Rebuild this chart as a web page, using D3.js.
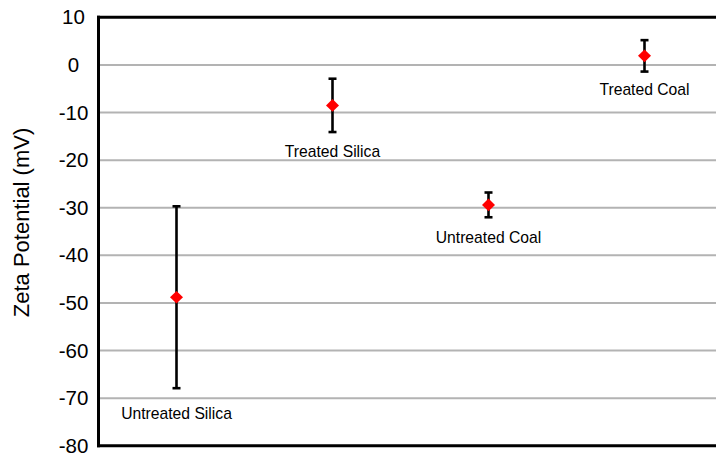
<!DOCTYPE html>
<html>
<head>
<meta charset="utf-8">
<script src="https://cdn.jsdelivr.net/npm/d3@7"></script>
<style>
  html, body { margin: 0; padding: 0; background: #fff; }
  svg { display: block; }
  text { font-family: "Liberation Sans", Arial, sans-serif; }
</style>
</head>
<body>
<svg id="chart" width="716" height="454"></svg>
<script>
// ---- data ----
const categories = ["Untreated Silica", "Treated Silica", "Untreated Coal", "Treated Coal"];
const means      = [-48.8, -8.5, -29.4, 1.9];
const errors     = [19.1, 5.6, 2.6, 3.3];
const labelY     = [-74.4, -19.3, -37.3, -6.3];
const yTicks     = [10, 0, -10, -20, -30, -40, -50, -60, -70, -80];
const yTitle     = "Zeta Potential (mV)";

// ---- layout ----
const mLeft = 98.5, mTop = 17.3, mBottom = 445.8, mRight = 722.5;
const svg = d3.select("#chart");

const x = d3.scaleBand().domain(categories).range([mLeft, mRight]).paddingInner(0).paddingOuter(0);
const y = d3.scaleLinear().domain([-80, 10]).range([mBottom, mTop]);

// gridlines
svg.append("g")
  .selectAll("line")
  .data(yTicks.filter(t => t < 10 && t > -80))
  .join("line")
  .attr("x1", mLeft).attr("x2", mRight)
  .attr("y1", d => y(d)).attr("y2", d => y(d))
  .attr("stroke", "#b3b3b3").attr("stroke-width", 2);

// top border
svg.append("line")
  .attr("x1", mLeft - 1.5).attr("x2", mRight)
  .attr("y1", y(10)).attr("y2", y(10))
  .attr("stroke", "#000").attr("stroke-width", 3);

// bottom axis line
svg.append("line")
  .attr("x1", mLeft - 1.5).attr("x2", mRight)
  .attr("y1", y(-80)).attr("y2", y(-80))
  .attr("stroke", "#000").attr("stroke-width", 3);

// left axis
const yAxis = d3.axisLeft(y).tickValues(yTicks).tickSize(0).tickPadding(0);
const gy = svg.append("g").attr("transform", `translate(${mLeft},0)`).call(yAxis);
gy.select(".domain").attr("stroke", "#000").attr("stroke-width", 3)
  .attr("d", `M0,${y(10) - 1.5}V${y(-80) + 1.5}`);
gy.selectAll(".tick text")
  .attr("x", 73.5 - mLeft)
  .attr("text-anchor", "middle")
  .attr("dy", "0.32em")
  .style("font-family", '"Liberation Sans", Arial, sans-serif')
  .style("font-size", "20.5px")
  .attr("fill", "#000")
  .text(d => d);

// axis title
svg.append("text")
  .attr("transform", `translate(29,222.5) rotate(-90)`)
  .attr("text-anchor", "middle")
  .style("font-size", "22px")
  .attr("fill", "#000")
  .text(yTitle);

// error bars
const data = categories.map((c, i) => ({ c, m: means[i], e: errors[i], ly: labelY[i] }));
const cx = d => x(d.c) + x.bandwidth() / 2;

const eb = svg.append("g");
eb.selectAll("line.v").data(data).join("line").attr("class", "v")
  .attr("x1", cx).attr("x2", cx)
  .attr("y1", d => y(d.m + d.e)).attr("y2", d => y(d.m - d.e))
  .attr("stroke", "#000").attr("stroke-width", 2.6);
eb.selectAll("line.t").data(data).join("line").attr("class", "t")
  .attr("x1", d => cx(d) - 4).attr("x2", d => cx(d) + 4)
  .attr("y1", d => y(d.m + d.e)).attr("y2", d => y(d.m + d.e))
  .attr("stroke", "#000").attr("stroke-width", 2.6);
eb.selectAll("line.b").data(data).join("line").attr("class", "b")
  .attr("x1", d => cx(d) - 4).attr("x2", d => cx(d) + 4)
  .attr("y1", d => y(d.m - d.e)).attr("y2", d => y(d.m - d.e))
  .attr("stroke", "#000").attr("stroke-width", 2.6);

// markers (diamonds)
const diamond = "M0,-6.3L6.5,0L0,6.3L-6.5,0Z";
svg.append("g").selectAll("path").data(data).join("path")
  .attr("d", diamond)
  .attr("transform", d => `translate(${cx(d)},${y(d.m)})`)
  .attr("fill", "#ff0000");

// data labels
svg.append("g").selectAll("text").data(data).join("text")
  .attr("x", cx)
  .attr("y", d => y(d.ly))
  .attr("text-anchor", "middle")
  .style("font-size", "15.7px")
  .attr("fill", "#000")
  .text(d => d.c);
</script>
</body>
</html>
